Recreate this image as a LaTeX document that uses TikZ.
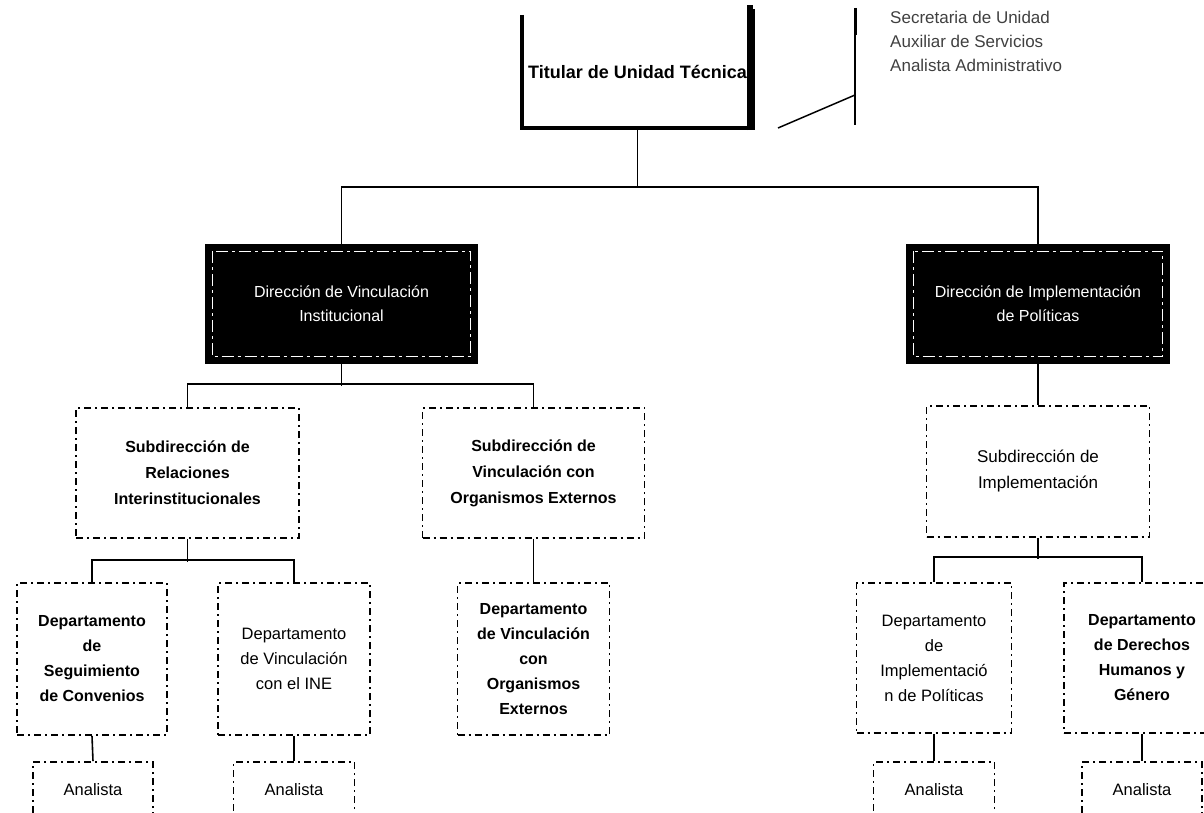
\documentclass[tikz,border=0pt]{standalone}
\usepackage{fontspec}
\setmainfont{Liberation Sans}
\begin{document}
\begin{tikzpicture}[x=1pt,y=-1pt,
  conn/.style={line width=1.6pt, black},
  dbox/.style={draw, line width=1.7pt, dash pattern=on 7pt off 4pt on 2pt off 4pt,
    align=center, inner sep=0pt, font=\fontsize{16.5}{25}\selectfont},
  bbox/.style={draw, fill=black, line width=1.6pt, align=center, inner sep=0pt,
    text=white, font=\fontsize{16}{24}\selectfont},
  inner/.style={white, line width=1pt, dash pattern=on 12pt off 4pt on 3pt off 4pt}
]
\useasboundingbox (0,0) rectangle (1204,813);
\clip (0,0) rectangle (1204,813);

% top box
\node[inner sep=0pt, minimum width=231pt, minimum height=113pt,
  font=\fontsize{18}{22}\selectfont\bfseries] (tit) at (637.5,71.5) {Titular de Unidad Técnica};
\draw[line width=3.5pt] (tit.north west) -- (tit.south west) -- (tit.south east) -- ([yshift=6pt]tit.north east);
\draw[line width=6pt] ([shift={(-3pt,-2pt)}]tit.south east) -- ([shift={(-3pt,10pt)}]tit.north east);

% side staff
\coordinate (sTop) at (855,8);
\coordinate (sMid) at (855,35);
\coordinate (sBot) at (855,125);
\coordinate (dA) at (778,128);
\coordinate (dB) at (855,95);
\draw[line width=1.5pt] (sTop) -- (sBot);
\draw[line width=3pt] (sTop) -- (sMid);
\draw[line width=1.5pt] (dA) -- (dB);
\node[anchor=west, align=left, inner sep=0pt, text=black!75,
  font=\fontsize{17}{24}\selectfont] (side) at (890,41)
  {Secretaria de Unidad\\Auxiliar de Servicios\\Analista Administrativo};

% directions (black boxes)
\node[bbox, minimum width=271pt, minimum height=118pt] (dirL) at (341.5,304)
  {Dirección de Vinculación\\Institucional};
\node[bbox, minimum width=262pt, minimum height=118pt] (dirR) at (1038,304)
  {Dirección de Implementación\\de Políticas};
\draw[inner] ([shift={(7pt,-7pt)}]dirL.north west) rectangle ([shift={(-7pt,7pt)}]dirL.south east);
\draw[inner] ([shift={(7pt,-7pt)}]dirR.north west) rectangle ([shift={(-7pt,7pt)}]dirR.south east);

% subdirections
\node[dbox, minimum width=223pt, minimum height=130pt, font=\fontsize{16}{26}\selectfont\bfseries] (subRel) at (187.5,473)
  {Subdirección de\\Relaciones\\Interinstitucionales};
\node[dbox, minimum width=222pt, minimum height=130pt, font=\fontsize{16}{26}\selectfont\bfseries] (subVin) at (533.5,473)
  {Subdirección de\\Vinculación con\\Organismos Externos};
\node[dbox, minimum width=223pt, minimum height=131pt, font=\fontsize{17}{26}\selectfont] (subImp) at (1038,471.5)
  {Subdirección de\\Implementación};

% departments
\node[dbox, minimum width=150pt, minimum height=152pt, font=\fontsize{16}{25}\selectfont\bfseries] (depSeg) at (92,659)
  {Departamento\\de\\Seguimiento\\de Convenios};
\node[dbox, minimum width=152pt, minimum height=152pt] (depINE) at (294,659)
  {Departamento\\de Vinculación\\con el INE};
\node[dbox, minimum width=152pt, minimum height=152pt, font=\fontsize{16}{25}\selectfont\bfseries] (depOrg) at (533.5,659)
  {Departamento\\de Vinculación\\con\\Organismos\\Externos};
\node[dbox, minimum width=155pt, minimum height=150pt] (depImp) at (934,658)
  {Departamento\\de\\Implementació\\n de Políticas};
\node[dbox, minimum width=156pt, minimum height=150pt, font=\fontsize{16}{25}\selectfont\bfseries] (depDer) at (1142,658)
  {Departamento\\de Derechos\\Humanos y\\Género};

% analysts
\node[dbox, minimum width=120pt, minimum height=56pt] (an1) at (93,790) {Analista};
\node[dbox, minimum width=121pt, minimum height=56pt] (an2) at (294,790) {Analista};
\node[dbox, minimum width=121pt, minimum height=56pt] (an3) at (934,790) {Analista};
\node[dbox, minimum width=120pt, minimum height=56pt] (an4) at (1142,790) {Analista};

% connectors
\coordinate (busT) at (637.5,188);
\draw[conn] (tit.south) -- (busT);
\draw[conn] (dirL.north) -- ++(0,-57) -| (dirR.north);

\draw[conn] (dirL.south) -- ++(0,22);
\draw[conn] (subRel.north) -- ++(0,-23) -| (subVin.north);
\draw[conn] (dirR.south) -- (subImp.north);

\draw[conn] (subRel.south) -- ++(0,23);
\draw[conn] (depSeg.north) -- ++(0,-22) -| (depINE.north);
\draw[conn] (subVin.south) -- (depOrg.north);

\draw[conn] (subImp.south) -- ++(0,21);
\draw[conn] (depImp.north) -- ++(0,-25) -| (depDer.north);

\draw[conn] (depSeg.south) -- (an1.north);
\draw[conn] (depINE.south) -- (an2.north);
\draw[conn] (depImp.south) -- (an3.north);
\draw[conn] (depDer.south) -- (an4.north);
\end{tikzpicture}
\end{document}
